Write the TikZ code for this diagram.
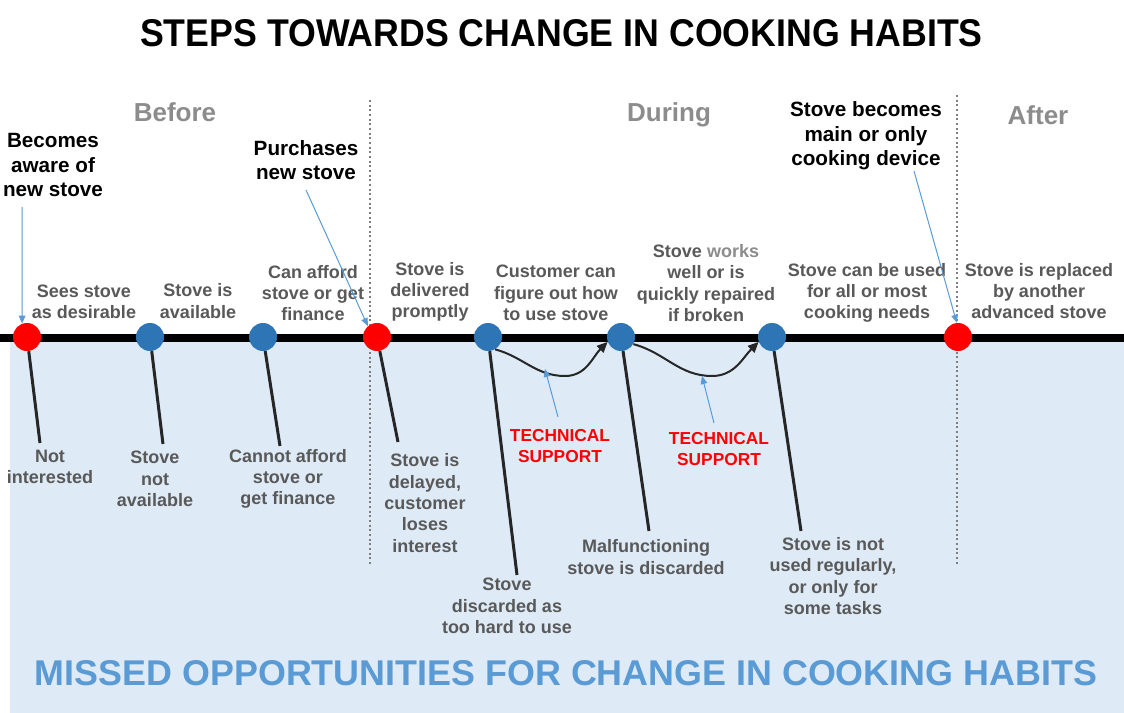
\documentclass[tikz,border=0pt]{standalone}
\usepackage{graphicx}
\usepackage{fontspec}
\setmainfont{Liberation Sans}
\usetikzlibrary{arrows.meta,positioning}
\definecolor{bgblue}{HTML}{DEEBF7}
\definecolor{dotblue}{HTML}{2E75B6}
\definecolor{dotred}{HTML}{FF0000}
\definecolor{txtgray}{HTML}{595959}
\definecolor{stagegray}{HTML}{8C8C8C}
\definecolor{hintblue}{HTML}{5B9BD5}
\definecolor{stickgray}{HTML}{262626}
\definecolor{divgray}{HTML}{7F7F7F}

\begin{document}
\begin{tikzpicture}[x=0.75pt,y=-0.75pt,
  lbl/.style={text=txtgray,align=center,inner sep=0pt,font=\bfseries\fontsize{13.5}{16}\selectfont},
  milestone/.style={align=center,inner sep=0pt,font=\bfseries\fontsize{15.5}{18.4}\selectfont},
  stage/.style={text=stagegray,inner sep=0pt,font=\bfseries\fontsize{19.5}{22}\selectfont},
  tech/.style={text=dotred,align=center,inner sep=0pt,font=\bfseries\fontsize{13}{16}\selectfont},
  rdot/.style={circle,fill=dotred,minimum size=21pt,inner sep=0pt},
  bdot/.style={circle,fill=dotblue,minimum size=21pt,inner sep=0pt},
  stick/.style={draw=stickgray,line width=2.25pt},
  hint/.style={-{Triangle[length=6pt,width=5pt]},draw=hintblue,line width=0.75pt},
  wave/.style={-{Triangle[length=8pt,width=7pt]},draw=stickgray,line width=1.5pt},
  divider/.style={draw=divgray,line width=2pt,dash pattern=on 1.5pt off 2pt}]
\useasboundingbox (0,0) rectangle (1124,713);
\fill[white] (0,0) rectangle (1124,713);
\fill[bgblue] (10,341) rectangle (1124,713);

% phases
\draw[divider] (370,100) -- (370,565);
\draw[divider] (957,95) -- (957,565);
\draw[line width=6pt] (0,337.5) -- (1124,337.5);

\node[inner sep=0pt] (title) at (561.5,33.5) {\resizebox{632pt}{20.25pt}{\bfseries STEPS TOWARDS CHANGE IN COOKING HABITS}};
\node[stage] (before) at (175,112) {Before};
\node[stage] (during) at (669,115) {During};
\node[stage] (after) at (1038,115) {After};

% milestones
\node[milestone] (aware) at (53,165) {Becomes\\aware of\\new stove};
\node[milestone] (buy) at (306,160) {Purchases\\new stove};
\node[milestone] (main) at (866,136) {Stove becomes\\main or only\\cooking device};

% steps on the line
\node[rdot] (p1) at (27,337) {};
\node[bdot] (p2) at (150,337) {};
\node[bdot] (p3) at (263,337) {};
\node[rdot] (p4) at (377,337) {};
\node[bdot] (p5) at (488,337) {};
\node[bdot] (p6) at (621,337) {};
\node[bdot] (p7) at (772,337) {};
\node[rdot] (p8) at (958,337) {};

\node[lbl] (u1) at (84,302) {Sees stove\\as desirable};
\node[lbl] (u2) at (198,301) {Stove is\\available};
\node[lbl] (u3) at (313,293) {Can afford\\stove or get\\finance};
\node[lbl] (u4) at (430,292) {Stove is\\delivered\\promptly};
\node[lbl] (u5) at (556,293) {Customer can\\figure out how\\to use stove};
\node[lbl] (u6) at (706,283) {Stove \textcolor{stagegray}{works}\\well or is\\quickly repaired\\if broken};
\node[lbl] (u7) at (867,293) {Stove can be used\\for all or most\\cooking needs};
\node[lbl] (u8) at (1039,291) {Stove is replaced\\by another\\advanced stove};

% missed opportunities
\node[lbl] (d1) at (50,467) {Not\\interested};
\node[lbl] (d2) at (155,479) {Stove\\not\\available};
\node[lbl] (d3) at (288,479) {Cannot afford\\stove or\\get finance};
\node[lbl] (d4) at (425,503) {Stove is\\delayed,\\customer\\loses\\interest};
\node[lbl] (d5) at (507,606) {Stove\\discarded as\\too hard to use};
\node[lbl] (d6) at (646,557) {Malfunctioning\\stove is discarded};
\node[lbl] (d7) at (833,576) {Stove is not\\used regularly,\\or only for\\some tasks};

\coordinate (e1) at (40,443);
\coordinate (e2) at (163,444);
\coordinate (e3) at (280,446);
\coordinate (e4) at (398,442);
\coordinate (e5) at (517,575);
\coordinate (e6) at (649,531);
\coordinate (e7) at (801,531);
\foreach \i in {1,...,7}{\draw[stick] (p\i) -- (e\i);}

% technical support
\node[tech] (t1) at (560,446) {TECHNICAL\\SUPPORT};
\node[tech] (t2) at (719,449) {TECHNICAL\\SUPPORT};
\coordinate (m1) at (565,376);
\coordinate (m2) at (712,376);
\draw[wave] (p5.-60) to[out=-15,in=180] (m1) to[out=0,in=-135] (p6.200);
\draw[wave] (p6.-30) to[out=-15,in=180] (m2) to[out=0,in=-135] (p7.200);
\coordinate (s1) at (558,417);
\coordinate (s2) at (714,423);
\coordinate (h1) at (545,369);
\coordinate (h2) at (702,376);
\draw[hint] (s1) -- (h1);
\draw[hint] (s2) -- (h2);

\coordinate (a1) at (22,207);
\coordinate (a2) at (306,190);
\coordinate (a3) at (914,171);
\draw[hint] (a1) -- (p1.110);
\draw[hint] (a2) -- (p4.130);
\draw[hint] (a3) -- (p8.95);

\node[inner sep=0pt,text=hintblue] (missed) at (566,673.5) {\resizebox{796.5pt}{18.75pt}{\bfseries MISSED OPPORTUNITIES FOR CHANGE IN COOKING HABITS}};
\end{tikzpicture}
\end{document}
